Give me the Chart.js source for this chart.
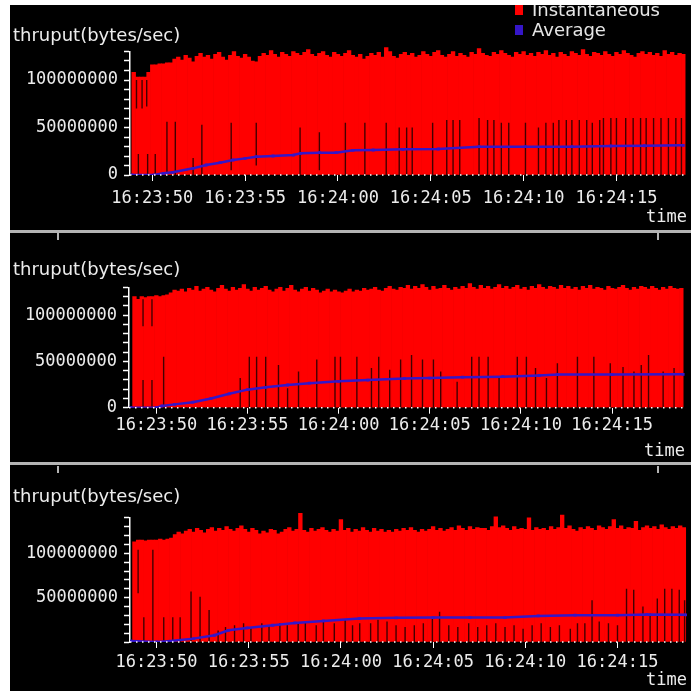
<!DOCTYPE html>
<html>
<head>
<meta charset="utf-8">
<script src="https://cdn.jsdelivr.net/npm/chart.js@4.4.1/dist/chart.umd.min.js"></script>
<style>
  html, body { margin: 0; padding: 0; background: #fff; width: 691px; height: 691px; overflow: hidden; }
  #plot { position: absolute; left: 10px; top: 5px; width: 681px; height: 686px; background: #000; overflow: hidden; }
  .panel { position: absolute; left: 0; width: 681px; }
  .sep { position: absolute; left: 0; width: 681px; height: 3px; background: #b4b4b4; }
  .nub { position: absolute; width: 2px; height: 7px; background: #b4b4b4; }
  #legend { position: absolute; left: 505px; top: -5px; font: 18px "DejaVu Sans", sans-serif; color: #e6e6e6; line-height: 20px; }
  #legend div { position: relative; padding-left: 17px; white-space: nowrap; }
  #legend span { position: absolute; left: 0; top: 5px; width: 8px; height: 10px; }
</style>
</head>
<body>
<div id="plot">
  <div class="panel" style="top:0;height:224px"><canvas id="p1"></canvas></div>
  <div class="sep" style="top:225px"></div>
  <div class="panel" style="top:228px;height:229px"><canvas id="p2"></canvas></div>
  <div class="sep" style="top:457px"></div>
  <div class="panel" style="top:460px;height:226px"><canvas id="p3"></canvas></div>
  <div class="nub" style="left:47px;top:228px"></div>
  <div class="nub" style="left:647px;top:228px"></div>
  <div class="nub" style="left:47px;top:461px"></div>
  <div class="nub" style="left:647px;top:461px"></div>
  <div id="legend"></div>
</div>
<script>
// series / axes
const seriesNames = ['Instantaneous', 'Average'];
const seriesColors = ['#ff0000', '#3516c8'];
const axisTitle = 'thruput(bytes/sec)';
const xTitle = 'time';
const xTickSeconds = [0, 5, 10, 15, 20, 25];           // seconds after 16:23:50
const xTickLabels = ['16:23:50', '16:23:55', '16:24:00', '16:24:05', '16:24:10', '16:24:15'];
const yLabelled1 = [0, 50000000, 100000000];
const yLabelled2 = [0, 50000000, 100000000];
const yLabelled3 = [50000000, 100000000];
const yMinorStep = 10000000;
const yMax = [130000000, 130000000, 140000000];
const xRange1 = [-1.2, 28.8];
const xRange2 = [-1.5, 29.0];
const xRange3 = [-1.44, 28.77];

// instantaneous samples (Mbytes/sec), one every 0.2 s
const sampleStep = 0.2;
const instStart = [-1.0, -1.2, -1.2];
const inst1 = [
  108,103,103,103,108,  116,116,117,117,118,  118,122,124,121,126,  123,119,125,128,124,
  126,122,127,129,124,  121,126,130,125,123,  127,124,120,119,125,  128,126,131,127,124,
  129,127,125,130,128,  126,129,132,127,125,  128,130,126,124,129,  127,125,128,131,126,
  124,127,122,125,128,  126,129,124,134,130,  125,123,127,129,126,  128,124,126,130,127,
  125,129,131,126,124,  127,130,125,128,126,  124,129,127,133,128,  126,125,129,127,131,
  128,126,124,129,127,  130,126,128,125,129,  127,131,126,128,124,  129,127,125,130,128,
  126,132,127,125,129,  128,126,130,127,125,  129,127,131,128,126,  124,128,130,127,129,
  126,128,125,131,127,  129,126,128,127
];
const inst2 = [
  120,117,120,119,120,  120,121,120,121,122,  124,127,126,128,125,  129,127,131,126,128,
  130,127,125,129,132,  128,126,130,127,129,  133,128,126,130,127,  129,131,127,125,128,
  130,126,129,132,127,  125,128,130,126,129,  127,124,126,128,125,  127,125,124,126,128,
  125,127,126,129,127,  128,130,127,126,129,  131,128,127,130,129,  132,128,131,129,133,
  130,127,131,128,129,  132,129,127,130,128,  131,129,134,130,128,  132,129,131,128,130,
  133,129,131,128,130,  132,128,130,127,131,  129,133,130,128,131,  130,128,132,129,131,
  128,130,127,131,129,  132,128,130,129,127,  131,129,128,130,132,  129,127,130,128,131,
  130,128,131,129,127,  130,128,131,129,128,  129
];
const inst3 = [
  113,115,115,114,115,  115,115,116,115,116,  117,121,124,122,125,  127,124,128,126,123,
  127,129,125,128,126,  130,127,125,128,131,  127,124,128,126,122,  125,123,127,126,122,
  124,127,129,125,127,  145,126,124,128,125,  127,129,126,124,127,  125,138,126,128,124,
  127,125,129,126,124,  128,125,127,124,126,  124,127,125,128,126,  129,126,124,127,125,
  127,130,126,128,125,  127,129,126,131,128,  126,130,127,129,128,  128,126,130,141,129,
  131,128,126,130,127,  128,127,140,126,129,  127,128,126,130,127,  129,143,128,131,127,
  125,129,127,130,128,  126,131,129,127,130,  138,128,131,127,129,  128,136,126,129,131,
  128,130,127,132,129,  127,130,128,131,129
];

// running average (Mbytes/sec)
const avgT1 = [-1.1, 0.1, 0.6, 1.1, 2.2, 2.9, 3.65, 4.35, 5.0, 5.6, 6.5, 7.6, 8.0, 9.0, 9.9, 10.8, 11.9, 13.5, 15.4, 17.6, 20.1, 22.6, 24.7, 26.5, 28.6];
const avgV1 = [0, 0, 1.8, 2.8, 7, 10.5, 13, 15.8, 17.5, 19.3, 20, 21, 22.8, 23.5, 23.5, 26, 26.3, 27, 27.4, 29.8, 29.8, 29.8, 30.5, 30.8, 31.2];
const avgT2 = [-1.4, 0, 0.3, 1.0, 2.0, 3.0, 4.0, 5.0, 6.0, 7.2, 8.4, 10.0, 11.6, 13.6, 15.0, 16.8, 19.0, 21.0, 22.0, 25.0, 28.9];
const avgV2 = [0, 0, 1.8, 3.6, 6, 10, 15, 19.5, 22, 24.5, 26.5, 28.5, 29.8, 31.5, 32, 33, 33.5, 34.8, 35.8, 35.8, 36];
const avgT3 = [-1.4, 0, 0.6, 2.0, 3.15, 3.9, 4.9, 6.3, 7.5, 9.05, 11.0, 13.0, 15.0, 17.0, 18.9, 20.7, 22.7, 25.0, 26.6, 28.7];
const avgV3 = [1, 0, 0.8, 3.8, 7.6, 13.2, 15.9, 18.9, 21.5, 23.8, 26.4, 27.2, 27.5, 27.5, 27.5, 29.4, 30.2, 30.2, 31, 30.6];

// dark gaps between samples: [seconds, low, high] in Mbytes/sec
const gaps1 = [
  [-0.85, 70, 100], [-0.75, 0, 22], [-0.55, 70, 100], [-0.3, 72, 100], [-0.25, 0, 22],
  [0.16, 0, 22], [0.79, 0, 56], [1.24, 0, 56], [2.2, 0, 18], [2.67, 0, 53],
  [4.25, 5, 55], [5.6, 10, 55], [7.96, 0, 50], [9.0, 5, 45], [10.4, 0, 55],
  [11.45, 0, 55], [12.6, 0, 55], [13.3, 0, 50], [13.7, 0, 50], [14.0, 0, 50],
  [15.1, 0, 55], [15.86, 0, 58], [16.2, 0, 58], [16.56, 0, 58], [17.6, 0, 60],
  [18.06, 0, 58], [18.4, 0, 58], [18.8, 0, 55], [19.2, 0, 55], [20.1, 0, 55],
  [20.8, 0, 50], [21.2, 0, 55], [21.6, 0, 55], [21.9, 0, 58], [22.3, 0, 58],
  [22.6, 0, 58], [23.0, 0, 58], [23.4, 0, 58], [23.7, 0, 55], [24.1, 0, 58],
  [24.3, 0, 60], [24.7, 0, 60], [25.0, 0, 60], [25.5, 0, 60], [25.9, 0, 60],
  [26.3, 0, 60], [26.6, 0, 60], [27.0, 0, 60], [27.4, 0, 60], [27.8, 0, 60],
  [28.2, 0, 60], [28.5, 0, 60]
];
const gaps2 = [
  [-0.73, 0, 30], [-0.73, 88, 117], [-0.24, 0, 30], [-0.24, 88, 117], [0.4, 0, 55],
  [4.6, 0, 32], [5.1, 0, 55], [5.5, 0, 55], [6.0, 0, 55], [6.7, 0, 46],
  [7.2, 0, 21], [7.8, 0, 39], [8.8, 0, 52], [9.8, 0, 55], [10.1, 0, 55],
  [11.0, 0, 55], [11.8, 0, 43], [12.2, 0, 55], [12.8, 0, 41], [13.4, 0, 52],
  [14.0, 0, 57], [14.6, 0, 52], [15.2, 0, 52], [15.6, 0, 39], [16.5, 0, 28],
  [17.3, 0, 55], [17.7, 0, 55], [18.2, 0, 55], [18.8, 0, 32], [19.8, 0, 55],
  [20.3, 0, 55], [20.8, 0, 43], [21.4, 0, 32], [22.0, 0, 48], [23.1, 0, 55],
  [24.0, 0, 55], [24.9, 0, 48], [25.6, 0, 44], [26.2, 0, 39], [26.6, 0, 46],
  [27.0, 0, 57], [27.8, 0, 39], [28.4, 0, 43]
];
const gaps3 = [
  [-1.0, 55, 104], [-0.69, 0, 28], [-0.2, 55, 104], [-0.2, 0, 60], [0.39, 0, 28],
  [0.88, 0, 28], [1.28, 0, 28], [1.87, 0, 57], [2.36, 0, 51], [2.85, 0, 36],
  [3.34, 0, 13], [3.74, 0, 17], [4.23, 0, 19], [4.72, 0, 21], [5.12, 0, 17],
  [5.71, 0, 21], [6.1, 0, 19], [6.69, 0, 21], [7.09, 0, 19], [7.68, 0, 21],
  [8.07, 0, 23], [8.66, 0, 19], [9.05, 0, 23], [9.64, 0, 21], [10.23, 0, 25],
  [10.63, 0, 19], [11.02, 0, 21], [11.61, 0, 21], [12.01, 0, 25], [12.5, 0, 23],
  [12.99, 0, 19], [13.48, 0, 17], [13.98, 0, 19], [14.47, 0, 21], [14.96, 0, 26],
  [15.35, 0, 34], [15.85, 0, 19], [16.34, 0, 17], [16.93, 0, 21], [17.42, 0, 17],
  [17.91, 0, 19], [18.4, 0, 21], [18.9, 0, 17], [19.39, 0, 19], [19.88, 0, 15],
  [20.37, 0, 19], [20.86, 0, 21], [21.36, 0, 17], [21.85, 0, 19], [22.44, 0, 15],
  [22.83, 0, 21], [23.23, 0, 21], [23.62, 0, 47], [24.01, 0, 23], [24.51, 0, 21],
  [25.0, 0, 19], [25.49, 0, 60], [25.88, 0, 59], [26.38, 0, 40], [26.77, 0, 32],
  [27.16, 0, 49], [27.56, 0, 60], [27.95, 0, 60], [28.35, 0, 59], [28.64, 0, 47]
];

const MB = 1000000;
const textColor = '#ececec';
const monoFont = { family: '"DejaVu Sans Mono", monospace', size: 17 };

// dotted x axis line
const dottedAxis = {
  id: 'dottedAxis',
  afterDatasetsDraw(chart) {
    const { ctx, chartArea: a } = chart;
    ctx.save();
    ctx.strokeStyle = '#ffffff';
    ctx.lineWidth = 1.5;
    ctx.setLineDash([1.5, 4.5]);
    ctx.beginPath();
    ctx.moveTo(a.left, a.bottom);
    ctx.lineTo(a.right, a.bottom);
    ctx.stroke();
    ctx.restore();
  }
};

function makePanel(id, d, look) {
  const inst = d.inst.map((v, i) => ({ x: d.start + i * sampleStep, y: v * MB }));
  const avg = d.avgT.map((t, i) => ({ x: t, y: d.avgV[i] * MB }));
  const gapPts = [];
  d.gaps.forEach(([t, lo, hi]) => {
    gapPts.push({ x: t, y: lo * MB }, { x: t, y: hi * MB }, { x: t, y: null });
  });

  return new Chart(document.getElementById(id), {
    type: 'bar',
    data: {
      datasets: [
        {
          type: 'bar', label: seriesNames[0], data: inst,
          backgroundColor: seriesColors[0], borderWidth: 0,
          barPercentage: 1, categoryPercentage: 1, grouped: false,
          order: 3, clip: { left: 0, top: 14, right: 0, bottom: 0 }
        },
        {
          type: 'line', label: 'gaps', data: gapPts,
          borderColor: 'rgba(45,0,0,0.9)', borderWidth: 1.4,
          pointRadius: 0, spanGaps: false, order: 2
        },
        {
          type: 'line', label: seriesNames[1], data: avg,
          borderColor: seriesColors[1], borderWidth: 2.5, tension: 0,
          pointRadius: 2, pointStyle: 'rect', pointBorderWidth: 0,
          pointBackgroundColor: seriesColors[1], order: 1
        }
      ]
    },
    options: {
      responsive: true,
      maintainAspectRatio: false,
      animation: false,
      events: [],
      layout: { padding: { left: 3, right: look.right, top: 0, bottom: 0 } },
      plugins: {
        legend: { display: false },
        tooltip: { enabled: false },
        title: {
          display: true, text: axisTitle, align: 'start', color: textColor,
          font: { family: '"DejaVu Sans", sans-serif', size: 18, weight: 'normal' },
          padding: { top: look.titleTop, bottom: look.titleBottom }
        }
      },
      scales: {
        x: {
          type: 'linear', min: d.xRange[0], max: d.xRange[1], offset: false,
          afterFit: s => { s.height = look.xHeight; },
          afterBuildTicks: s => { s.ticks = xTickSeconds.map(v => ({ value: v })); },
          grid: { display: true, drawOnChartArea: false, tickLength: 6, tickColor: '#ffffff', offset: false },
          border: { display: false },
          ticks: {
            autoSkip: false, maxRotation: 0, color: textColor, font: monoFont, padding: look.xPad,
            callback: v => { const k = xTickSeconds.indexOf(v); return k >= 0 ? xTickLabels[k] : ''; }
          },
          title: {
            display: true, text: xTitle, align: 'end', color: textColor, font: monoFont,
            padding: { top: 0, bottom: look.timePad }
          }
        },
        y: {
          type: 'linear', min: 0, max: d.yMax,
          afterFit: s => { s.width = look.yWidth; },
          afterBuildTicks: s => {
            const t = [];
            for (let v = 0; v <= d.yMax; v += yMinorStep) t.push({ value: v });
            s.ticks = t;
          },
          grid: { display: true, drawOnChartArea: false, tickLength: 6, tickColor: '#ffffff', tickWidth: 1.5 },
          border: { color: '#ffffff', width: 1.5 },
          ticks: {
            autoSkip: false, color: textColor, font: monoFont, padding: 6,
            callback: v => d.labelled.includes(v) ? String(v) : ''
          }
        }
      }
    },
    plugins: [dottedAxis]
  });
}

makePanel('p1',
  { inst: inst1, start: instStart[0], avgT: avgT1, avgV: avgV1, gaps: gaps1, xRange: xRange1, yMax: yMax[0], labelled: yLabelled1 },
  { right: 3, yWidth: 117, titleTop: 20.2, titleBottom: 4.7, xHeight: 54, xPad: 7, timePad: 1 });
makePanel('p2',
  { inst: inst2, start: instStart[1], avgT: avgT2, avgV: avgV2, gaps: gaps2, xRange: xRange2, yMax: yMax[1], labelled: yLabelled2 },
  { right: 6, yWidth: 116, titleTop: 26.2, titleBottom: 6.5, xHeight: 54.3, xPad: 2, timePad: 0 });
makePanel('p3',
  { inst: inst3, start: instStart[2], avgT: avgT3, avgV: avgV3, gaps: gaps3, xRange: xRange3, yMax: yMax[2], labelled: yLabelled3 },
  { right: 2, yWidth: 117, titleTop: 21.2, titleBottom: 10, xHeight: 49, xPad: 4, timePad: 0 });

// legend
const legend = document.getElementById('legend');
seriesNames.forEach((name, i) => {
  const row = document.createElement('div');
  row.innerHTML = `<span style="background:${seriesColors[i]}"></span>${name}`;
  legend.appendChild(row);
});
</script>
</body>
</html>
